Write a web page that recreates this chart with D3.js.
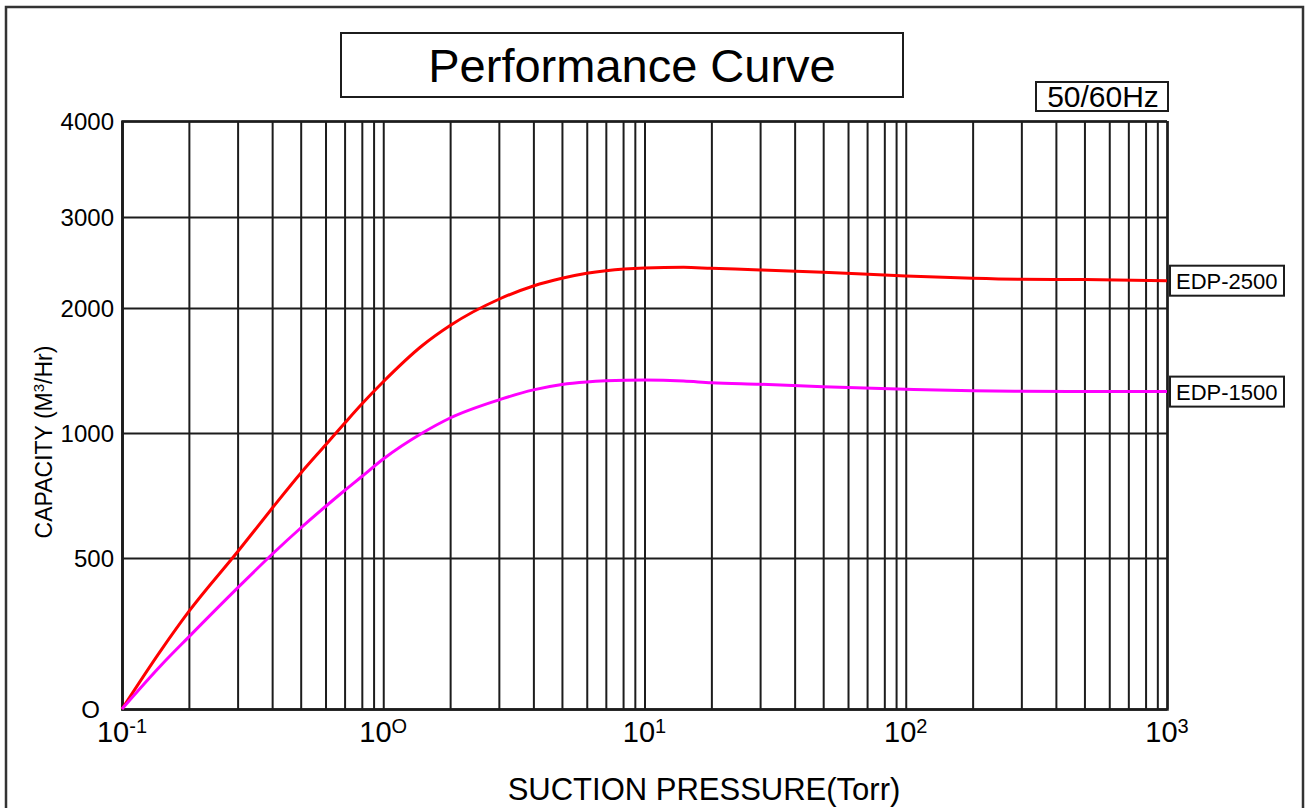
<!DOCTYPE html>
<html><head><meta charset="utf-8">
<script src="https://cdn.jsdelivr.net/npm/d3@7"></script>
<style>body{margin:0;background:#fff}svg{display:block}</style>
</head><body><svg id="chart" width="1309" height="808"></svg>
<script>
// ---- data ----
const pressure = [0.1, 0.15, 0.2, 0.3, 0.4, 0.5, 0.6, 0.7, 0.8, 1, 1.5, 2, 3, 4, 5, 6, 7, 10, 15, 20, 30, 50, 100, 200, 300, 500, 1000];
const edp2500 = [0, 195, 323, 525, 699, 839, 952, 1078, 1232, 1410, 1700, 1860, 2096, 2242, 2326, 2381, 2410, 2440, 2447, 2436, 2418, 2392, 2352, 2326, 2315, 2312, 2300];
const edp1500 = [0, 145, 239, 401, 515, 620, 706, 770, 826, 896, 1000, 1120, 1265, 1345, 1388, 1408, 1417, 1424, 1416, 1402, 1390, 1370, 1350, 1338, 1334, 1331, 1331];
const seriesNames = ["EDP-2500", "EDP-1500"];
const seriesColors = ["#ff0000", "#ff00ff"];
const yTicks = [0, 500, 1000, 2000, 3000, 4000];
const yTickLabels = ["O", "500", "1000", "2000", "3000", "4000"];
const xDecades = [0.1, 1, 10, 100, 1000];
const xDecadeExp = ["-1", "O", "1", "2", "3"];
const titleText = "Performance Curve";
const freqText = "50/60Hz";
const xTitle = "SUCTION PRESSURE(Torr)";

// ---- layout ----
const L = 122, R = 1167, T = 121, B = 709;
const yAxisFrac = [0, 0.2568, 0.4694, 0.682, 0.8367, 1];            // non-uniform chart paper (y)
const decadeFrac = [0, 0.256, 0.4425, 0.5747, 0.684, 0.779, 0.852, 0.918, 0.963]; // chart paper ruling of 1..9 inside a decade
const font = "'Liberation Sans', Arial, Helvetica, sans-serif";
const ink = "#1c1c1c";

const svg = d3.select("#chart").style("font-family", font);

// x: chart-paper log scale (piecewise-linear in log10 space)
const nDec = xDecades.length - 1;
const decW = (R - L) / nDec;
const gridVals = [], gridPos = [];
for (let d = 0; d < nDec; d++) {
  for (let m = 1; m <= 9; m++) {
    gridVals.push(Math.log10(m * xDecades[d]));
    gridPos.push(L + (d + decadeFrac[m - 1]) * decW);
  }
}
gridVals.push(Math.log10(xDecades[nDec])); gridPos.push(R);
const xs = d3.scaleLinear().domain(gridVals).range(gridPos);
const x = v => xs(Math.log10(v));
const y = d3.scaleLinear().domain(yTicks).range(yAxisFrac.map(f => B - f * (B - T)));

// outer frame
svg.append("rect").attr("x", 6).attr("y", 7).attr("width", 1297).attr("height", 830)
  .attr("fill", "none").attr("stroke", "#333").attr("stroke-width", 2.5);

// title box
svg.append("rect").attr("x", 341).attr("y", 33).attr("width", 562).attr("height", 64)
  .attr("fill", "none").attr("stroke", ink).attr("stroke-width", 2);
svg.append("text").attr("x", 632).attr("y", 82).attr("text-anchor", "middle")
  .attr("font-size", 47).attr("fill", "#000").text(titleText);

// 50/60Hz box
svg.append("rect").attr("x", 1036).attr("y", 82).attr("width", 132).attr("height", 29)
  .attr("fill", "none").attr("stroke", ink).attr("stroke-width", 2);
svg.append("text").attr("x", 1103).attr("y", 106.5).attr("text-anchor", "middle")
  .attr("font-size", 30).attr("fill", "#000").text(freqText);

// vertical grid
const gx = svg.append("g").attr("transform", `translate(0,${B})`)
  .call(d3.axisBottom(xs).tickValues(gridVals).tickSize(-(B - T)).tickFormat(""));
gx.selectAll("line").attr("stroke", ink).attr("stroke-width", 2);
gx.select(".domain").attr("stroke", ink).attr("stroke-width", 2.5);

// horizontal grid
const gy = svg.append("g").attr("transform", `translate(${L},0)`)
  .call(d3.axisLeft(y).tickValues(yTicks.slice(1)).tickSize(-(R - L)).tickFormat(""));
gy.selectAll("line").attr("stroke", ink).attr("stroke-width", 2);
gy.select(".domain").attr("stroke", ink).attr("stroke-width", 2.5);

// y tick labels
svg.append("g").selectAll("text").data(yTicks).join("text")
  .attr("x", d => d === 0 ? L - 22 : L - 8)
  .attr("y", d => y(d))
  .attr("dy", "0.36em")
  .attr("text-anchor", "end").attr("font-size", 24).attr("fill", "#000")
  .text((d, i) => yTickLabels[i]);

// x decade labels
const xl = svg.append("g").selectAll("text").data(xDecades).join("text")
  .attr("x", d => x(d)).attr("y", 742).attr("text-anchor", "middle").attr("fill", "#000");
xl.append("tspan").attr("font-size", 29).text("10");
xl.append("tspan").attr("font-size", 20).attr("dy", -9).text((d, i) => xDecadeExp[i]);

// axis titles
svg.append("text").attr("x", 704).attr("y", 800).attr("text-anchor", "middle")
  .attr("font-size", 31).attr("fill", "#000").text(xTitle);
const yt = svg.append("text").attr("transform", "translate(52,442) rotate(-90)")
  .attr("text-anchor", "middle").attr("font-size", 23).attr("fill", "#000");
yt.append("tspan").text("CAPACITY (M");
yt.append("tspan").attr("font-size", 15).attr("dy", -8).text("3");
yt.append("tspan").attr("dy", 8).text("/Hr)");

// curves
const series = [edp2500, edp1500];
const line = d3.line().x(d => x(d[0])).y(d => y(d[1])).curve(d3.curveMonotoneX);
series.forEach((vals, i) => {
  const pts = pressure.map((p, j) => [p, vals[j]]);
  svg.append("path").attr("d", line(pts)).attr("fill", "none")
    .attr("stroke", seriesColors[i]).attr("stroke-width", 3);
  const yEnd = y(vals[vals.length - 1]);
  const g = svg.append("g").attr("transform", `translate(${x(xDecades[nDec]) + 3},${yEnd})`);
  g.append("rect").attr("x", 0).attr("y", -15).attr("width", 114).attr("height", 30)
    .attr("fill", "#fff").attr("stroke", ink).attr("stroke-width", 2);
  g.append("text").attr("x", 6).attr("y", 0).attr("dy", "0.36em")
    .attr("font-size", 22).attr("fill", "#000").text(seriesNames[i]);
});
</script>
</body></html>
